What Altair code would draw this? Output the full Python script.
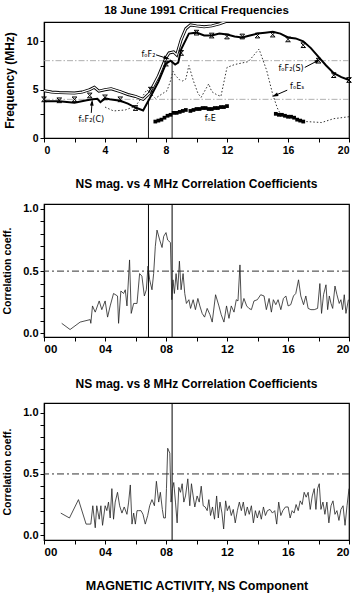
import math
import altair as alt
import pandas as pd

FONT = "Liberation Sans"

# ---------------- Top panel data (MHz vs hour) ----------------
upper_x = [0, 0.5, 1, 2, 2.5, 3, 3.3, 3.6, 4, 4.4, 5, 5.5, 6, 6.5, 6.9, 7.5, 8.0, 8.2, 8.5, 8.7,
           9.0, 9.3, 9.6, 10, 10.5, 11, 11.5, 12, 12.3]
upper_y = [4.9, 4.75, 4.7, 4.65, 4.75, 5.0, 5.25, 4.85, 5.0, 5.1, 4.8, 4.5, 4.3, 4.0, 4.6, 6.4, 8.3, 8.8, 8.9, 8.6,
           10.2, 11.3, 11.7, 11.6, 11.5, 11.6, 11.8, 12.1, 12.4]

lower_x = [0, 1, 2, 2.8, 3.2, 3.5, 3.7, 4.0, 4.3, 5, 5.5, 6, 6.5, 6.9, 7.5, 8.0, 8.3, 8.6, 8.8, 9.0, 9.5,
           10, 10.5, 11, 11.5, 12, 12.5, 13, 13.5, 14, 14.5, 15, 15.5, 16, 16.5, 17, 17.5, 18, 18.5, 19, 19.5, 20]
lower_y = [3.8, 3.8, 3.65, 3.9, 4.0, 4.05, 3.7, 4.1, 4.0, 3.85, 3.55, 3.15, 2.85, 4.0, 5.8, 7.7, 8.0, 7.6, 7.8, 9.2, 10.8,
           10.9, 10.6, 10.6, 10.8, 10.7, 10.5, 10.4, 10.6, 10.8, 10.9, 11.0, 10.8, 10.4, 10.3, 10.0, 9.3, 8.4, 7.5, 6.7, 6.3, 6.0]

marker_x = list(range(21))
marker_y = [4.0, 3.9, 4.0, 4.4, 4.2, 4.0, 3.1, 5.0, 7.7, 8.8, 10.9, 10.6, 10.5, 10.5, 10.6, 10.7, 10.2, 9.6, 8.0, 6.5, 6.0]

foe_x = [7.3, 7.5, 7.7, 7.9, 8.1, 8.3, 8.5, 8.7, 8.9, 9.1, 9.3, 9.6, 9.8, 10.0, 10.2, 10.4, 10.6, 10.8, 11.0,
         11.2, 11.4, 11.6, 11.8, 12.0,
         15.2, 15.4, 15.6, 15.8, 16.0, 16.2, 16.4, 16.6, 16.8, 17.0]
foe_y = [1.7, 1.8, 1.9, 2.1, 2.3, 2.4, 2.6, 2.6, 2.7, 2.8, 2.9, 2.8, 2.9, 3.0, 3.0, 3.1, 3.1, 3.0, 3.0,
         3.1, 3.1, 3.2, 3.2, 3.3,
         2.5, 2.4, 2.4, 2.3, 2.2, 2.2, 2.1, 1.9, 1.8, 1.7]

fes_x = [4.0, 4.56, 5.33, 6.0, 6.42, 6.75, 7.3, 8.07, 8.29, 8.46, 8.6, 8.9, 9.1, 9.3, 9.5, 9.8, 10.1, 10.3,
         10.8, 11.0, 11.3, 11.6, 12.0, 12.5, 13.4, 14.1, 14.6, 15.0, 15.3, 15.5,
         17.2, 18.2, 19.0, 20.0]
fes_y = [3.2, 2.8, 2.9, 3.3, 4.2, 5.0, 4.1, 4.9, 5.9, 6.9, 6.5, 6.0, 5.9, 6.1, 7.5, 5.9, 4.6, 4.2,
         5.6, 4.8, 4.5, 4.3, 7.3, 7.6, 7.9, 9.2, 7.0, 4.5, 3.1, 2.5,
         1.7, 1.6, 2.0, 2.2]
fes_seg = [1] * 30 + [2] * 4

ref_freqs = [4, 8]
event_hours = [6.85, 8.4]
event_tops = [4.0, 8.0]

# ---------------- Correlation panels ----------------
c4_t = [1.16, 1.71, 2.37, 3.03, 3.07, 3.18, 3.36, 3.62, 3.79, 4.01, 4.17, 4.34, 4.56, 4.82, 4.89, 5.04, 5.22,
        5.33, 5.44, 5.61, 5.72, 5.88, 6.10, 6.27, 6.42, 6.58, 6.71, 6.82, 6.93, 7.08, 7.19, 7.30, 7.41, 7.59,
        7.74, 7.85, 8.00, 8.11, 8.29, 8.38, 8.46, 8.55, 8.66, 8.77, 8.88, 8.99, 9.12, 9.23, 9.34, 9.50, 9.61,
        9.78, 9.93, 10.09, 10.22, 10.37, 10.53, 10.70, 10.88, 11.03, 11.25, 11.47, 11.62, 11.80, 11.97, 12.13,
        12.28, 12.46, 12.61, 12.72, 12.85, 12.94, 13.11, 13.29, 13.44, 13.60, 13.77, 13.99, 14.21, 14.43,
        14.58, 14.76, 14.91, 15.04, 15.20, 15.35, 15.53, 15.70, 15.86, 16.01, 16.18, 16.36, 16.51, 16.69,
        16.84, 17.02, 17.17, 17.32, 17.50, 17.72, 17.94, 18.09, 18.20, 18.33, 18.49, 18.60, 18.71, 18.82,
        18.93, 19.08, 19.21, 19.36, 19.47, 19.58, 19.69, 19.80, 19.96]
c4_r = [0.08, 0.03, 0.09, 0.11, 0.08, 0.22, 0.17, 0.26, 0.19, 0.26, 0.13, 0.22, 0.32, 0.30, 0.08, 0.34, 0.32,
        0.35, 0.22, 0.59, 0.16, 0.24, 0.24, 0.48, 0.46, 0.30, 0.35, 0.54, 0.43, 0.35, 0.48, 0.70, 0.83, 0.75,
        0.69, 0.78, 0.81, 0.75, 0.73, 0.27, 0.43, 0.32, 0.48, 0.35, 0.58, 0.35, 0.48, 0.32, 0.24, 0.27, 0.20,
        0.27, 0.19, 0.28, 0.22, 0.16, 0.13, 0.20, 0.15, 0.09, 0.31, 0.22, 0.15, 0.09, 0.22, 0.12,
        0.22, 0.17, 0.27, 0.26, 0.55, 0.20, 0.28, 0.22, 0.20, 0.19, 0.26, 0.27, 0.31, 0.30,
        0.19, 0.28, 0.17, 0.27, 0.23, 0.27, 0.19, 0.28, 0.30, 0.22, 0.23, 0.30, 0.32, 0.43,
        0.30, 0.23, 0.30, 0.20, 0.19, 0.19, 0.20, 0.40, 0.16, 0.31, 0.39, 0.19, 0.30, 0.24,
        0.20, 0.38, 0.31, 0.24, 0.27, 0.19, 0.31, 0.16, 0.27]

c8_t = [1.10, 1.67, 2.26, 2.76, 3.07, 3.20, 3.36, 3.46, 3.62, 3.73, 3.84, 4.01, 4.12, 4.23, 4.34, 4.45, 4.56,
        4.67, 4.82, 4.96, 5.11, 5.26, 5.44, 5.55, 5.66, 5.77, 5.88, 5.99, 6.10, 6.21, 6.36, 6.49, 6.64, 6.80,
        6.93, 7.08, 7.24, 7.37, 7.52, 7.63, 7.76, 7.85, 7.96, 8.03, 8.11, 8.25, 8.33, 8.42, 8.51, 8.62, 8.73,
        8.84, 8.95, 9.06, 9.17, 9.28, 9.43, 9.56, 9.67, 9.78, 9.89, 10.04, 10.18, 10.31, 10.44, 10.57, 10.70,
        10.81, 10.92, 11.05, 11.18, 11.32, 11.43, 11.54, 11.67, 11.78, 11.91, 12.02, 12.15, 12.28, 12.41,
        12.54, 12.68, 12.81, 12.94, 13.07, 13.20, 13.33, 13.46, 13.60, 13.73, 13.86, 13.99, 14.12, 14.25,
        14.39, 14.52, 14.65, 14.82, 14.98, 15.13, 15.26, 15.39, 15.53, 15.66, 15.83, 16.01, 16.14, 16.27,
        16.40, 16.53, 16.67, 16.80, 16.93, 17.06, 17.19, 17.32, 17.46, 17.59, 17.72, 17.83, 17.94, 18.05,
        18.16, 18.29, 18.42, 18.55, 18.68, 18.82, 18.95, 19.08, 19.21, 19.34, 19.47, 19.61, 19.74, 19.87, 20.0]
c8_r = [0.18, 0.14, 0.29, 0.09, 0.09, 0.24, 0.06, 0.24, 0.13, 0.24, 0.08, 0.24, 0.20, 0.27, 0.14, 0.38, 0.13,
        0.27, 0.35, 0.24, 0.18, 0.23, 0.17, 0.27, 0.41, 0.09, 0.18, 0.09, 0.20, 0.20, 0.20, 0.17, 0.09, 0.16,
        0.24, 0.29, 0.24, 0.44, 0.27, 0.35, 0.21, 0.14, 0.14, 0.38, 0.71, 0.67, 0.27, 0.38, 0.43, 0.27, 0.10,
        0.39, 0.35, 0.42, 0.27, 0.32, 0.46, 0.24, 0.42, 0.32, 0.23, 0.32, 0.27, 0.40, 0.24, 0.23, 0.20,
        0.29, 0.16, 0.23, 0.13, 0.32, 0.14, 0.27, 0.18, 0.05, 0.28, 0.20, 0.24, 0.16, 0.21,
        0.10, 0.20, 0.27, 0.20, 0.27, 0.16, 0.23, 0.17, 0.24, 0.10, 0.20, 0.14, 0.20, 0.13,
        0.23, 0.16, 0.20, 0.21, 0.18, 0.20, 0.09, 0.27, 0.16, 0.20, 0.23, 0.23, 0.14, 0.20,
        0.18, 0.25, 0.20, 0.28, 0.25, 0.35, 0.31, 0.35, 0.21, 0.32, 0.38, 0.21, 0.38, 0.42,
        0.21, 0.27, 0.17, 0.27, 0.10, 0.24, 0.28, 0.17, 0.20, 0.12, 0.21, 0.24, 0.08, 0.24, 0.38]

# ---------------- Annotations ----------------
ann_text = ["fₒF₂", "fₒF₂(C)", "fₒE", "fₒF₂(S)", "fₒEₛ"]
ann_x = [6.85, 3.1, 10.9, 16.2, 16.6]
ann_y = [8.6, 1.9, 2.0, 7.1, 5.3]
arr_x = [7.35, 3.1, 17.1, 15.95]
arr_y = [8.6, 2.6, 7.3, 4.95]
arr_x2 = [8.05, 3.15, 17.95, 15.15]
arr_y2 = [8.25, 3.65, 8.0, 4.4]

PX_H = 15.25
PX_F = 9.67
arr_ang = [math.degrees(math.atan2((x2 - x1) * PX_H, (y2 - y1) * PX_F)) % 360
           for x1, y1, x2, y2 in zip(arr_x, arr_y, arr_x2, arr_y2)]

W = 305

xs_top = alt.Scale(domain=[0, 20], nice=False)
ys_top = alt.Scale(domain=[0, 12], nice=False)

x_axis_top = alt.Axis(values=list(range(0, 21, 2)), labelExpr="datum.value % 4 == 0 ? datum.value : ''",
                      title=None, labelPadding=3)
y_axis_top = alt.Axis(values=[0, 2.5, 5, 7.5, 10], labelExpr="datum.value % 5 == 0 ? datum.value : ''",
                      title="Frequency (MHz)", titleFontSize=12, titlePadding=10)

X = lambda f: alt.X(f, type="quantitative", scale=xs_top, axis=x_axis_top)
Y = lambda f: alt.Y(f, type="quantitative", scale=ys_top, axis=y_axis_top)

df_up = pd.DataFrame({"h": upper_x, "f": upper_y})
df_lo = pd.DataFrame({"h": lower_x, "f": lower_y})
df_mk = pd.DataFrame({"h": marker_x, "f": marker_y})
df_foe = pd.DataFrame({"h": foe_x, "f": foe_y})
df_fes = pd.DataFrame({"h": fes_x, "f": fes_y, "seg": fes_seg})
df_ref = pd.DataFrame({"f": ref_freqs})
df_ev = pd.DataFrame({"h": event_hours, "top": event_tops, "zero": [0, 0]})
df_ann = pd.DataFrame({"h": ann_x, "f": ann_y, "t": ann_text})
df_arr = pd.DataFrame({"h": arr_x, "f": arr_y, "h2": arr_x2, "f2": arr_y2, "ang": arr_ang})

hourglass = "M-1,-1L1,-1L-1,1L1,1Z"
arrowhead = "M0,-1L0.55,0.9L-0.55,0.9Z"

top = alt.layer(
    alt.Chart(df_ref).mark_rule(color="#9a9a9a", strokeWidth=0.8, strokeDash=[6, 2, 1.5, 2]).encode(
        y=alt.Y("f:Q", scale=ys_top, axis=y_axis_top)),
    alt.Chart(df_ev).mark_rule(color="black", strokeWidth=0.9).encode(
        x=X("h"), y=Y("zero"), y2="top:Q"),
    alt.Chart(df_fes).mark_line(color="#333", strokeWidth=1, strokeDash=[1.5, 2]).encode(
        x=X("h"), y=Y("f"), detail="seg:N"),
    alt.Chart(df_up).mark_line(color="black", strokeWidth=3.0, clip=True).encode(x=X("h"), y=Y("f")),
    alt.Chart(df_up).mark_line(color="white", strokeWidth=1.2, clip=True).encode(x=X("h"), y=Y("f")),
    alt.Chart(df_lo).mark_line(color="black", strokeWidth=2).encode(x=X("h"), y=Y("f")),
    alt.Chart(df_mk).mark_point(shape=hourglass, filled=False, color="black", size=22, strokeWidth=1,
                                opacity=1).encode(x=X("h"), y=Y("f")),
    alt.Chart(df_foe).mark_square(color="black", size=14, opacity=1).encode(x=X("h"), y=Y("f")),
    alt.Chart(df_arr).mark_rule(color="black", strokeWidth=1).encode(x=X("h"), y=Y("f"), x2="h2:Q", y2="f2:Q"),
    alt.Chart(df_arr).mark_point(shape=arrowhead, filled=True, color="black", size=45, opacity=1).encode(
        x=X("h2"), y=Y("f2"), angle=alt.Angle("ang:Q", scale=None)),
    alt.Chart(df_ann).mark_text(font="DejaVu Sans", fontSize=8, fill="black", color="black").encode(
        x=X("h"), y=Y("f"), text="t:N"),
).properties(
    width=W, height=116,
    title=alt.TitleParams("18 June 1991  Critical Frequencies", fontSize=11.5, offset=6),
)

xs_c = alt.Scale(domain=[0, 20], nice=False)
y_vals = [round(i * 0.1, 1) for i in range(11)]
y_axis_c = alt.Axis(values=y_vals,
                    labelExpr="(abs(datum.value) < 0.001 || abs(datum.value - 0.5) < 0.001 || abs(datum.value - 1) < 0.001) ? format(datum.value, '.1f') : ''",
                    title="Correlation coeff.", titleFontSize=10.5, titlePadding=10, labelFontSize=11)


def corr_panel(t, r, title, ydom, height, events, xtitle=None, xtitle_pad=0):
    df = pd.DataFrame({"h": t, "r": r})
    ys = alt.Scale(domain=ydom, nice=False)
    ax_kw = dict(values=list(range(0, 21, 2)),
                 labelExpr="datum.value % 4 == 0 ? (datum.value < 10 ? '0' + datum.value : datum.value) : ''",
                 labelFontSize=11.5, labelPadding=2, tickSize=4)
    if xtitle is None:
        xax = alt.Axis(title=None, **ax_kw)
    else:
        xax = alt.Axis(title=xtitle, titleFontSize=12.5, titlePadding=xtitle_pad, **ax_kw)
    return alt.layer(
        alt.Chart(pd.DataFrame({"r": [0.5]})).mark_rule(color="#333", strokeWidth=1, strokeDash=[7, 3, 2, 3]).encode(
            y=alt.Y("r:Q", scale=ys, axis=y_axis_c)),
        alt.Chart(pd.DataFrame({"h": events})).mark_rule(color="black", strokeWidth=1).encode(
            x=alt.X("h:Q", scale=xs_c, axis=xax)),
        alt.Chart(df).mark_line(color="#222", strokeWidth=0.8).encode(
            x=alt.X("h:Q", scale=xs_c, axis=xax),
            y=alt.Y("r:Q", scale=ys, axis=y_axis_c)),
    ).properties(width=W, height=height,
                 title=alt.TitleParams(title, fontSize=12, offset=12))


mid = corr_panel(c4_t, c4_r, "NS mag. vs 4 MHz Correlation Coefficients", [-0.03, 1.04], 133, event_hours)
bot = corr_panel(c8_t, c8_r, "NS mag. vs 8 MHz Correlation Coefficients", [-0.04, 1.08], 137, [8.4],
                 xtitle="MAGNETIC ACTIVITY, NS Component", xtitle_pad=22)

chart = alt.vconcat(top, mid, bot, spacing=20).properties(
    padding={"left": 2, "top": 3, "right": 5, "bottom": 0},
    background="white",
).configure_view(stroke="black", strokeWidth=1.2).configure_axis(
    grid=False, domainColor="black", tickColor="black", labelColor="black", titleColor="black",
    labelFont=FONT, titleFont=FONT, labelFontWeight="bold", titleFontWeight="bold", labelFontSize=10.5,
    tickSize=4, domainWidth=1.2,
).configure_title(font=FONT, fontWeight="bold", color="black", anchor="middle", frame="group")

chart.save("out.html", embed_options={"renderer": "svg", "actions": False})
